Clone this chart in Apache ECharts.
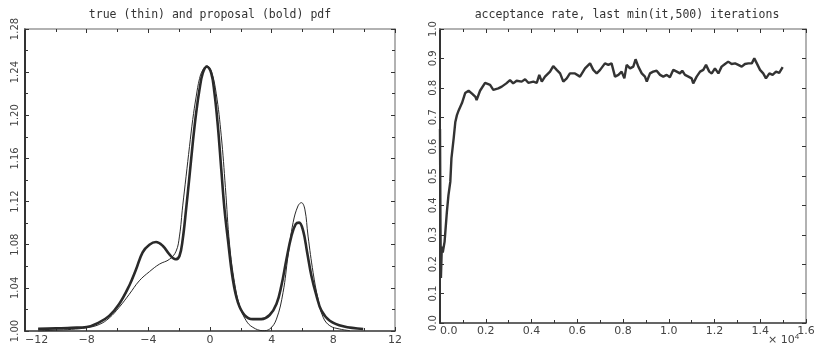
<!DOCTYPE html>
<html>
<head>
<meta charset="utf-8">
<script src="https://cdn.jsdelivr.net/npm/echarts@6/dist/echarts.min.js"></script>
<style>
html,body{margin:0;padding:0;background:#fff;}
#chart{width:831px;height:346px;}
</style>
</head>
<body>
<div id="chart"></div>
<script>
// true density (thin line): [x, pdf]
const truePdf = [
	[-11.15,1.0],[-10,1.0008],[-9,1.0015],[-8,1.003],[-7.19,1.006],[-6.54,1.012],[-5.89,1.022],
	[-5.24,1.034],[-4.59,1.0465],[-3.93,1.055],[-3.28,1.062],[-2.63,1.0665],[-2.2,1.074],[-1.98,1.088],
	[-1.77,1.116],[-1.55,1.1435],[-1.33,1.171],[-1.12,1.196],[-0.9,1.217],[-0.68,1.234],[-0.47,1.242],
	[-0.21,1.246],[0.08,1.241],[0.4,1.2205],[0.73,1.181],[1.0,1.133],[1.27,1.08],[1.59,1.045],
	[1.92,1.0234],[2.35,1.0095],[2.78,1.0034],[3.43,1.0003],[3.87,1.0018],[4.31,1.011],[4.74,1.0358],
	[5.06,1.0696],[5.39,1.1005],[5.71,1.116],[5.93,1.119],[6.15,1.113],[6.36,1.088],[6.69,1.054],
	[7.01,1.0296],[7.34,1.0127],[7.77,1.0049],[8.42,1.0018],[9.07,1.0003]
];
// proposal density (bold line)
const proposalPdf = [
	[-11.15,1.002],[-10,1.0024],[-9,1.003],[-8,1.0037],[-7.19,1.008],[-6.54,1.014],[-5.89,1.025],
	[-5.24,1.042],[-4.8,1.057],[-4.37,1.073],[-3.93,1.080],[-3.5,1.0825],[-3.07,1.079],[-2.63,1.071],
	[-2.24,1.0665],[-1.98,1.0696],[-1.77,1.085],[-1.55,1.113],[-1.33,1.1435],[-1.12,1.174],[-0.9,1.202],
	[-0.68,1.224],[-0.47,1.239],[-0.21,1.245],[0.08,1.239],[0.29,1.2205],[0.51,1.19],[0.73,1.15],
	[0.94,1.113],[1.16,1.085],[1.48,1.048],[1.81,1.0265],[2.24,1.0148],[2.78,1.011],[3.33,1.011],
	[3.87,1.0148],[4.31,1.025],[4.63,1.042],[4.96,1.0665],[5.28,1.088],[5.56,1.099],[5.78,1.1005],
	[6.04,1.093],[6.3,1.073],[6.58,1.051],[6.91,1.0326],[7.23,1.0188],[7.77,1.0095],[8.64,1.0043],
	[9.94,1.0018]
];
// acceptance rate: [iteration (x 10^4), rate]
const accRate = [
	[0,0.66],[0.002,0.33],[0.004,0.153],[0.008,0.26],[0.012,0.24],[0.02,0.276],[0.03,0.377],
	[0.037,0.435],[0.045,0.48],[0.05,0.56],[0.06,0.63],[0.067,0.684],[0.074,0.707],[0.082,0.724],
	[0.096,0.748],[0.11,0.782],[0.125,0.79],[0.14,0.78],[0.155,0.769],[0.16,0.758],[0.175,0.79],
	[0.197,0.817],[0.219,0.81],[0.233,0.793],[0.255,0.798],[0.27,0.804],[0.29,0.815],[0.306,0.826],
	[0.32,0.815],[0.335,0.824],[0.357,0.821],[0.372,0.829],[0.386,0.817],[0.408,0.821],[0.423,0.817],
	[0.434,0.844],[0.445,0.821],[0.459,0.838],[0.481,0.855],[0.495,0.874],[0.51,0.861],[0.525,0.849],
	[0.539,0.821],[0.554,0.832],[0.568,0.849],[0.59,0.849],[0.612,0.838],[0.634,0.866],[0.656,0.883],
	[0.67,0.861],[0.685,0.849],[0.70,0.861],[0.721,0.883],[0.736,0.878],[0.75,0.883],[0.765,0.838],
	[0.78,0.844],[0.794,0.855],[0.806,0.832],[0.816,0.878],[0.831,0.866],[0.845,0.872],[0.855,0.897],
	[0.867,0.872],[0.882,0.849],[0.896,0.838],[0.904,0.821],[0.918,0.849],[0.932,0.855],[0.947,0.858],
	[0.962,0.844],[0.976,0.838],[0.991,0.844],[1.005,0.836],[1.02,0.861],[1.035,0.855],[1.049,0.849],
	[1.059,0.858],[1.071,0.844],[1.086,0.838],[1.10,0.832],[1.107,0.815],[1.122,0.838],[1.137,0.855],
	[1.151,0.861],[1.163,0.878],[1.177,0.855],[1.188,0.849],[1.202,0.866],[1.217,0.849],[1.231,0.872],
	[1.246,0.881],[1.26,0.889],[1.275,0.881],[1.29,0.883],[1.304,0.878],[1.319,0.872],[1.333,0.881],
	[1.348,0.883],[1.363,0.883],[1.374,0.900],[1.385,0.883],[1.399,0.861],[1.413,0.849],[1.425,0.832],
	[1.44,0.849],[1.454,0.844],[1.469,0.855],[1.483,0.851],[1.498,0.870]
];

const pdfXRange = [-12, 12, 4];
const pdfYRange = [1.00, 1.28, 0.04];
const accXRange = [0, 1.6, 0.2];
const accYRange = [0, 1.0, 0.1];

const titleFont = '"DejaVu Sans Mono", monospace';
const labelFont = '"DejaVu Sans", sans-serif';
const ink = '#333';

function boxAxis(grid, pos, range, opts) {
	let showLabel = pos === 'bottom' || pos === 'left';
	let lineColor = (pos === 'left' || pos === 'bottom') ? '#333' : '#999';
	return Object.assign({
		type: 'value',
		gridIndex: grid,
		position: pos,
		min: range[0],
		max: range[1],
		interval: range[2],
		splitLine: {show: false},
		axisLine: {onZero: false, lineStyle: {color: lineColor, width: pos === 'left' ? 2 : 1.5}},
		axisTick: {inside: true, length: 4, lineStyle: {color: ink}},
		axisLabel: {show: showLabel, color: '#444', fontFamily: labelFont, fontSize: 11}
	}, opts || {});
}

let myChart = echarts.init(document.getElementById('chart'));
myChart.setOption({
	animation: false,
	backgroundColor: '#fff',
	title: [
		{text: 'true (thin) and proposal (bold) pdf', left: 205, top: 4, textAlign: 'center',
			textStyle: {fontFamily: titleFont, fontSize: 11.5, fontWeight: 'normal', color: ink}},
		{text: 'acceptance rate, last min(it,500) iterations', left: 622, top: 4, textAlign: 'center',
			textStyle: {fontFamily: titleFont, fontSize: 11.5, fontWeight: 'normal', color: ink}}
	],
	grid: [
		{left: 25, top: 29, width: 370, height: 303},
		{left: 440, top: 29, width: 366, height: 294}
	],
	xAxis: [
		boxAxis(0, 'bottom', pdfXRange, {
			minorTick: {show: true, splitNumber: 2, length: 3, lineStyle: {color: ink}},
			axisLabel: {color: '#444', fontFamily: labelFont, fontSize: 11, margin: 4, alignMinLabel: 'left',
				formatter: v => String(v).replace('-', '\u2212')}
		}),
		boxAxis(0, 'top', pdfXRange, {minorTick: {show: true, splitNumber: 2, length: 3, lineStyle: {color: ink}}}),
		boxAxis(1, 'bottom', accXRange, {
			minorTick: {show: true, splitNumber: 2, length: 3, lineStyle: {color: ink}},
			axisLabel: {color: '#444', fontFamily: labelFont, fontSize: 11, margin: 3, alignMinLabel: 'left',
				formatter: v => v.toFixed(1)}
		}),
		boxAxis(1, 'top', accXRange, {minorTick: {show: true, splitNumber: 2, length: 3, lineStyle: {color: ink}}})
	],
	yAxis: [
		boxAxis(0, 'left', pdfYRange, {
			minorTick: {show: true, splitNumber: 2, length: 3, lineStyle: {color: ink}},
			axisLabel: {color: '#444', fontFamily: labelFont, fontSize: 10, rotate: 90, margin: 5,
				formatter: v => v.toFixed(2)}
		}),
		boxAxis(0, 'right', pdfYRange, {minorTick: {show: true, splitNumber: 2, length: 3, lineStyle: {color: ink}}}),
		boxAxis(1, 'left', accYRange, {
			axisLabel: {color: '#444', fontFamily: labelFont, fontSize: 10, rotate: 90, margin: 2,
				formatter: v => v.toFixed(1)}
		}),
		boxAxis(1, 'right', accYRange)
	],
	graphic: [
		{type: 'text', left: 768, top: 333, style: {
			text: '\u00d7 10{s|4}', fill: '#444', font: '11px "DejaVu Sans"',
			rich: {s: {fontSize: 8, verticalAlign: 'top', padding: [0, 0, 6, 0], fill: '#444'}}
		}}
	],
	series: [
		{
			name: 'true',
			type: 'line',
			xAxisIndex: 0, yAxisIndex: 0,
			data: truePdf,
			showSymbol: false,
			smooth: 0.4,
			lineStyle: {color: '#2a2a2a', width: 1}
		},
		{
			name: 'proposal',
			type: 'line',
			xAxisIndex: 0, yAxisIndex: 0,
			data: proposalPdf,
			showSymbol: false,
			smooth: 0.4,
			lineStyle: {color: '#2a2a2a', width: 2.6}
		},
		{
			name: 'acceptance',
			type: 'line',
			xAxisIndex: 2, yAxisIndex: 2,
			data: accRate,
			showSymbol: false,
			lineStyle: {color: '#333', width: 2.4}
		}
	]
});
</script>
</body>
</html>
